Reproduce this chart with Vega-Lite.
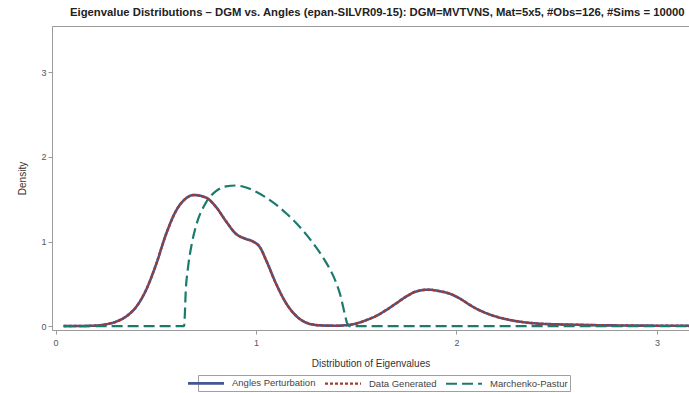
{
  "$schema": "https://vega.github.io/schema/vega-lite/v6.json",
  "autosize": "none",
  "width": 637,
  "height": 304,
  "padding": {"left": 52, "top": 26, "right": 0, "bottom": 63},
  "background": "white",
  "config": {
    "font": "Liberation Sans",
    "view": {"stroke": null},
    "axis": {"domainColor": "#9a9a9a", "tickColor": "#9a9a9a", "labelColor": "#555555", "titleColor": "#333333", "labelFontSize": 9, "titleFontSize": 10, "titleFontWeight": "normal", "grid": false, "tickSize": 4}
  },
  "title": {"text": "Eigenvalue Distributions – DGM vs. Angles (epan-SILVR09-15): DGM=MVTVNS, Mat=5x5, #Obs=126, #Sims = 10000", "fontSize": 11.3, "fontWeight": "bold", "color": "#222222", "anchor": "start", "frame": "group", "dx": 18, "offset": 8},
  "datasets": {
    "curves": [
      {"x": 0.04, "y": 0, "s": "Angles Perturbation"},
      {"x": 0.1, "y": 0, "s": "Angles Perturbation"},
      {"x": 0.2, "y": 0.005, "s": "Angles Perturbation"},
      {"x": 0.25, "y": 0.02, "s": "Angles Perturbation"},
      {"x": 0.3, "y": 0.05, "s": "Angles Perturbation"},
      {"x": 0.35, "y": 0.11, "s": "Angles Perturbation"},
      {"x": 0.4, "y": 0.22, "s": "Angles Perturbation"},
      {"x": 0.45, "y": 0.42, "s": "Angles Perturbation"},
      {"x": 0.5, "y": 0.72, "s": "Angles Perturbation"},
      {"x": 0.55, "y": 1.08, "s": "Angles Perturbation"},
      {"x": 0.6, "y": 1.36, "s": "Angles Perturbation"},
      {"x": 0.65, "y": 1.51, "s": "Angles Perturbation"},
      {"x": 0.69, "y": 1.55, "s": "Angles Perturbation"},
      {"x": 0.75, "y": 1.52, "s": "Angles Perturbation"},
      {"x": 0.8, "y": 1.41, "s": "Angles Perturbation"},
      {"x": 0.85, "y": 1.24, "s": "Angles Perturbation"},
      {"x": 0.9, "y": 1.09, "s": "Angles Perturbation"},
      {"x": 0.95, "y": 1.03, "s": "Angles Perturbation"},
      {"x": 0.985, "y": 1.0, "s": "Angles Perturbation"},
      {"x": 1.02, "y": 0.93, "s": "Angles Perturbation"},
      {"x": 1.05, "y": 0.78, "s": "Angles Perturbation"},
      {"x": 1.1, "y": 0.5, "s": "Angles Perturbation"},
      {"x": 1.15, "y": 0.27, "s": "Angles Perturbation"},
      {"x": 1.2, "y": 0.12, "s": "Angles Perturbation"},
      {"x": 1.25, "y": 0.04, "s": "Angles Perturbation"},
      {"x": 1.3, "y": 0.012, "s": "Angles Perturbation"},
      {"x": 1.35, "y": 0.005, "s": "Angles Perturbation"},
      {"x": 1.4, "y": 0.004, "s": "Angles Perturbation"},
      {"x": 1.45, "y": 0.01, "s": "Angles Perturbation"},
      {"x": 1.5, "y": 0.03, "s": "Angles Perturbation"},
      {"x": 1.55, "y": 0.07, "s": "Angles Perturbation"},
      {"x": 1.6, "y": 0.12, "s": "Angles Perturbation"},
      {"x": 1.65, "y": 0.19, "s": "Angles Perturbation"},
      {"x": 1.7, "y": 0.27, "s": "Angles Perturbation"},
      {"x": 1.75, "y": 0.35, "s": "Angles Perturbation"},
      {"x": 1.8, "y": 0.41, "s": "Angles Perturbation"},
      {"x": 1.86, "y": 0.43, "s": "Angles Perturbation"},
      {"x": 1.92, "y": 0.41, "s": "Angles Perturbation"},
      {"x": 1.97, "y": 0.38, "s": "Angles Perturbation"},
      {"x": 2.02, "y": 0.32, "s": "Angles Perturbation"},
      {"x": 2.08, "y": 0.23, "s": "Angles Perturbation"},
      {"x": 2.14, "y": 0.16, "s": "Angles Perturbation"},
      {"x": 2.2, "y": 0.11, "s": "Angles Perturbation"},
      {"x": 2.26, "y": 0.075, "s": "Angles Perturbation"},
      {"x": 2.32, "y": 0.05, "s": "Angles Perturbation"},
      {"x": 2.4, "y": 0.03, "s": "Angles Perturbation"},
      {"x": 2.5, "y": 0.02, "s": "Angles Perturbation"},
      {"x": 2.6, "y": 0.015, "s": "Angles Perturbation"},
      {"x": 2.7, "y": 0.01, "s": "Angles Perturbation"},
      {"x": 2.8, "y": 0.007, "s": "Angles Perturbation"},
      {"x": 3.0, "y": 0.004, "s": "Angles Perturbation"},
      {"x": 3.2, "y": 0.002, "s": "Angles Perturbation"},
      {"x": 0.04, "y": 0, "s": "Data Generated"},
      {"x": 0.1, "y": 0, "s": "Data Generated"},
      {"x": 0.2, "y": 0.005, "s": "Data Generated"},
      {"x": 0.25, "y": 0.02, "s": "Data Generated"},
      {"x": 0.3, "y": 0.05, "s": "Data Generated"},
      {"x": 0.35, "y": 0.11, "s": "Data Generated"},
      {"x": 0.4, "y": 0.22, "s": "Data Generated"},
      {"x": 0.45, "y": 0.42, "s": "Data Generated"},
      {"x": 0.5, "y": 0.72, "s": "Data Generated"},
      {"x": 0.55, "y": 1.08, "s": "Data Generated"},
      {"x": 0.6, "y": 1.36, "s": "Data Generated"},
      {"x": 0.65, "y": 1.51, "s": "Data Generated"},
      {"x": 0.69, "y": 1.55, "s": "Data Generated"},
      {"x": 0.75, "y": 1.52, "s": "Data Generated"},
      {"x": 0.8, "y": 1.41, "s": "Data Generated"},
      {"x": 0.85, "y": 1.24, "s": "Data Generated"},
      {"x": 0.9, "y": 1.09, "s": "Data Generated"},
      {"x": 0.95, "y": 1.03, "s": "Data Generated"},
      {"x": 0.985, "y": 1.0, "s": "Data Generated"},
      {"x": 1.02, "y": 0.93, "s": "Data Generated"},
      {"x": 1.05, "y": 0.78, "s": "Data Generated"},
      {"x": 1.1, "y": 0.5, "s": "Data Generated"},
      {"x": 1.15, "y": 0.27, "s": "Data Generated"},
      {"x": 1.2, "y": 0.12, "s": "Data Generated"},
      {"x": 1.25, "y": 0.04, "s": "Data Generated"},
      {"x": 1.3, "y": 0.012, "s": "Data Generated"},
      {"x": 1.35, "y": 0.005, "s": "Data Generated"},
      {"x": 1.4, "y": 0.004, "s": "Data Generated"},
      {"x": 1.45, "y": 0.01, "s": "Data Generated"},
      {"x": 1.5, "y": 0.03, "s": "Data Generated"},
      {"x": 1.55, "y": 0.07, "s": "Data Generated"},
      {"x": 1.6, "y": 0.12, "s": "Data Generated"},
      {"x": 1.65, "y": 0.19, "s": "Data Generated"},
      {"x": 1.7, "y": 0.27, "s": "Data Generated"},
      {"x": 1.75, "y": 0.35, "s": "Data Generated"},
      {"x": 1.8, "y": 0.41, "s": "Data Generated"},
      {"x": 1.86, "y": 0.43, "s": "Data Generated"},
      {"x": 1.92, "y": 0.41, "s": "Data Generated"},
      {"x": 1.97, "y": 0.38, "s": "Data Generated"},
      {"x": 2.02, "y": 0.32, "s": "Data Generated"},
      {"x": 2.08, "y": 0.23, "s": "Data Generated"},
      {"x": 2.14, "y": 0.16, "s": "Data Generated"},
      {"x": 2.2, "y": 0.11, "s": "Data Generated"},
      {"x": 2.26, "y": 0.075, "s": "Data Generated"},
      {"x": 2.32, "y": 0.05, "s": "Data Generated"},
      {"x": 2.4, "y": 0.03, "s": "Data Generated"},
      {"x": 2.5, "y": 0.02, "s": "Data Generated"},
      {"x": 2.6, "y": 0.015, "s": "Data Generated"},
      {"x": 2.7, "y": 0.01, "s": "Data Generated"},
      {"x": 2.8, "y": 0.007, "s": "Data Generated"},
      {"x": 3.0, "y": 0.004, "s": "Data Generated"},
      {"x": 3.2, "y": 0.002, "s": "Data Generated"},
      {"x": 0.04, "y": 0, "s": "Marchenko-Pastur"},
      {"x": 0.3, "y": 0, "s": "Marchenko-Pastur"},
      {"x": 0.62, "y": 0, "s": "Marchenko-Pastur"},
      {"x": 0.641, "y": 0, "s": "Marchenko-Pastur"},
      {"x": 0.65, "y": 0.45, "s": "Marchenko-Pastur"},
      {"x": 0.66, "y": 0.68, "s": "Marchenko-Pastur"},
      {"x": 0.68, "y": 0.98, "s": "Marchenko-Pastur"},
      {"x": 0.7, "y": 1.18, "s": "Marchenko-Pastur"},
      {"x": 0.75, "y": 1.46, "s": "Marchenko-Pastur"},
      {"x": 0.8, "y": 1.595, "s": "Marchenko-Pastur"},
      {"x": 0.85, "y": 1.653, "s": "Marchenko-Pastur"},
      {"x": 0.9, "y": 1.663, "s": "Marchenko-Pastur"},
      {"x": 0.95, "y": 1.639, "s": "Marchenko-Pastur"},
      {"x": 1.0, "y": 1.59, "s": "Marchenko-Pastur"},
      {"x": 1.05, "y": 1.521, "s": "Marchenko-Pastur"},
      {"x": 1.1, "y": 1.436, "s": "Marchenko-Pastur"},
      {"x": 1.15, "y": 1.335, "s": "Marchenko-Pastur"},
      {"x": 1.2, "y": 1.219, "s": "Marchenko-Pastur"},
      {"x": 1.25, "y": 1.085, "s": "Marchenko-Pastur"},
      {"x": 1.3, "y": 0.93, "s": "Marchenko-Pastur"},
      {"x": 1.35, "y": 0.75, "s": "Marchenko-Pastur"},
      {"x": 1.38, "y": 0.62, "s": "Marchenko-Pastur"},
      {"x": 1.4, "y": 0.51, "s": "Marchenko-Pastur"},
      {"x": 1.42, "y": 0.37, "s": "Marchenko-Pastur"},
      {"x": 1.44, "y": 0.17, "s": "Marchenko-Pastur"},
      {"x": 1.455, "y": 0.03, "s": "Marchenko-Pastur"},
      {"x": 1.465, "y": 0, "s": "Marchenko-Pastur"},
      {"x": 2.0, "y": 0, "s": "Marchenko-Pastur"},
      {"x": 3.2, "y": 0, "s": "Marchenko-Pastur"}
    ]
  },
  "data": {"name": "curves"},
  "layer": [
    {
      "mark": {"type": "line", "interpolate": "monotone", "clip": true},
      "encoding": {
        "x": {"field": "x", "type": "quantitative", "scale": {"domain": [-0.018, 3.16], "nice": false, "zero": false}, "axis": {"values": [0, 1, 2, 3], "format": "d", "title": "Distribution of Eigenvalues", "titlePadding": 11, "labelPadding": 4}},
        "y": {"field": "y", "type": "quantitative", "scale": {"domain": [-0.047, 3.55], "nice": false, "zero": false}, "axis": {"values": [0, 1, 2, 3], "format": "d", "title": "Density", "titlePadding": 13}},
        "color": {"field": "s", "type": "nominal", "title": null, "scale": {"domain": ["Angles Perturbation", "Data Generated", "Marchenko-Pastur"], "range": ["#445694", "#A23A2E", "#1B7A6E"]},
          "legend": {"orient": "none", "legendX": 146, "legendY": 349, "direction": "horizontal", "strokeColor": "#a0a0a0", "padding": 2, "symbolType": "M-4,0H4", "symbolSize": 81, "symbolStrokeWidth": 2.5, "labelFontSize": 9.5, "labelColor": "#444444", "columnPadding": 4, "labelOffset": 20}},
        "strokeDash": {"field": "s", "type": "nominal", "title": null, "scale": {"domain": ["Angles Perturbation", "Data Generated", "Marchenko-Pastur"], "range": [[1, 0], [3, 2], [11, 5]]}},
        "strokeWidth": {"field": "s", "type": "nominal", "scale": {"domain": ["Angles Perturbation", "Data Generated", "Marchenko-Pastur"], "range": [2.6, 2.2, 3.2]}, "legend": null}
      }
    },
    {
      "mark": {"type": "line", "strokeOpacity": 0},
      "encoding": {
        "x": {"field": "x", "type": "quantitative", "axis": {"orient": "top", "labels": false, "ticks": false, "title": null}},
        "y": {"field": "y", "type": "quantitative"}
      }
    }
  ],
  "resolve": {"axis": {"x": "independent"}}
}
